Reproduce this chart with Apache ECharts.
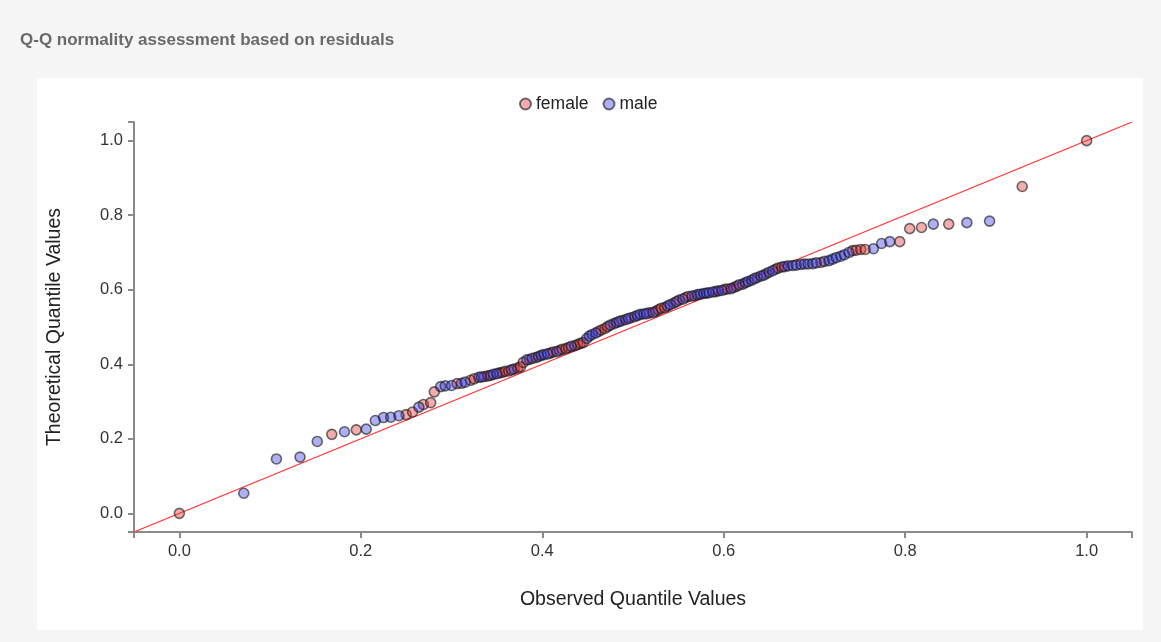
<!DOCTYPE html>
<html>
<head>
<meta charset="utf-8">
<script src="https://cdn.jsdelivr.net/npm/echarts@6/dist/echarts.min.js"></script>
<style>
  html, body { margin: 0; padding: 0; background: #f5f5f5; }
  #chart { width: 1161px; height: 642px; }
</style>
</head>
<body>
<div id="chart"></div>
<script>
// ---- Data ----
const titleText = 'Q-Q normality assessment based on residuals';
const seriesNames = ['female', 'male'];
const xAxisTitle = 'Observed Quantile Values';
const yAxisTitle = 'Theoretical Quantile Values';
const tickValues = [0.0, 0.2, 0.4, 0.6, 0.8, 1.0];
const axisDomain = [-0.05, 1.05];
const refLineEnds = [-0.05, 1.05];

const femaleData = [
  [0.000,0.000],[0.168,0.212],[0.195,0.224],[0.250,0.265],[0.257,0.272],[0.269,0.292],[0.277,0.297],
  [0.281,0.326],[0.306,0.348],[0.321,0.357],[0.325,0.361],
  [0.336,0.367],[0.340,0.369],[0.353,0.377],[0.356,0.378],[0.359,0.381],[0.363,0.382],[0.369,0.387],
  [0.373,0.390],[0.376,0.393],[0.379,0.405],[0.386,0.413],[0.393,0.418],[0.409,0.430],[0.412,0.433],
  [0.419,0.437],[0.422,0.440],[0.426,0.442],[0.429,0.445],[0.436,0.450],[0.439,0.453],[0.442,0.456],
  [0.445,0.458],[0.462,0.488],[0.465,0.492],[0.469,0.496],[0.472,0.501],[0.479,0.509],[0.488,0.517],
  [0.498,0.525],[0.518,0.538],[0.525,0.542],[0.528,0.546],[0.531,0.550],[0.535,0.552],[0.545,0.564],
  [0.551,0.572],[0.558,0.579],[0.561,0.582],[0.568,0.584],[0.591,0.595],[0.601,0.601],[0.604,0.602],
  [0.611,0.606],[0.614,0.609],[0.621,0.615],[0.637,0.633],[0.647,0.643],[0.657,0.655],[0.660,0.658],
  [0.664,0.661],[0.707,0.673],[0.742,0.705],[0.746,0.706],[0.751,0.708],[0.756,0.708],[0.794,0.729],
  [0.805,0.764],[0.818,0.767],[0.848,0.776],[0.929,0.877],[1.000,1.000]
];

const maleData = [
  [0.071,0.054],[0.107,0.146],[0.133,0.151],[0.152,0.193],[0.182,0.219],[0.206,0.226],[0.216,0.249],
  [0.225,0.257],[0.233,0.258],[0.242,0.262],[0.264,0.285],[0.288,0.340],[0.293,0.342],[0.300,0.343],
  [0.311,0.349],[0.315,0.352],[0.330,0.365],
  [0.333,0.366],[0.343,0.370],[0.346,0.373],[0.350,0.375],[0.366,0.385],[0.383,0.412],[0.389,0.416],
  [0.396,0.421],[0.399,0.424],[0.402,0.426],[0.406,0.428],[0.416,0.434],[0.432,0.448],[0.449,0.469],
  [0.452,0.476],[0.455,0.480],[0.459,0.484],[0.475,0.505],[0.482,0.512],[0.485,0.515],[0.492,0.520],
  [0.495,0.523],[0.502,0.528],[0.505,0.531],[0.508,0.534],[0.512,0.535],[0.515,0.536],[0.522,0.539],
  [0.538,0.556],[0.541,0.560],[0.548,0.568],[0.555,0.575],[0.565,0.583],[0.571,0.587],[0.574,0.588],
  [0.578,0.590],[0.581,0.591],[0.584,0.592],[0.588,0.594],[0.594,0.597],[0.598,0.598],[0.608,0.603],
  [0.617,0.613],[0.624,0.619],[0.627,0.622],[0.631,0.626],[0.634,0.630],[0.641,0.637],[0.644,0.639],
  [0.650,0.647],[0.654,0.651],[0.667,0.662],[0.671,0.664],[0.676,0.665],[0.680,0.666],[0.685,0.668],
  [0.689,0.669],[0.693,0.669],[0.698,0.670],[0.702,0.672],[0.711,0.676],[0.716,0.678],[0.720,0.682],
  [0.724,0.686],[0.729,0.690],[0.733,0.694],[0.738,0.700],[0.765,0.710],[0.774,0.724],[0.783,0.729],
  [0.831,0.776],[0.868,0.780],[0.893,0.784]
];

// ---- Chart ----
const chart = echarts.init(document.getElementById('chart'), null, { renderer: 'canvas' });
const FONT = '"Liberation Sans", Arial, sans-serif';
const AXIS_COLOR = '#8a8a8a';
const tickWithEnds = [axisDomain[0]].concat(tickValues, [axisDomain[1]]);

function axisCommon(name, nameGap) {
  return {
    type: 'value',
    min: axisDomain[0],
    max: axisDomain[1],
    name: name,
    nameLocation: 'middle',
    nameGap: nameGap,
    nameTextStyle: { fontFamily: FONT, fontSize: 19.5, color: '#222' },
    splitLine: { show: false },
    axisLine: { show: true, onZero: false, lineStyle: { color: AXIS_COLOR, width: 2 } },
    axisTick: { show: true, length: 6, customValues: tickWithEnds, lineStyle: { color: AXIS_COLOR, width: 2 } },
    axisLabel: {
      customValues: tickValues,
      formatter: v => v.toFixed(1),
      fontFamily: FONT, fontSize: 16.5, color: '#333', margin: 11
    }
  };
}

const pointStyle = (fill) => ({
  color: fill,
  borderColor: 'rgba(20,20,20,0.75)',
  borderWidth: 1.6
});

chart.setOption({
  backgroundColor: 'transparent',
  animation: false,
  graphic: [{
    type: 'rect', z: -10, silent: true,
    shape: { x: 37, y: 78, width: 1106, height: 552 },
    style: { fill: '#ffffff' }
  }],
  title: {
    text: titleText,
    left: 20, top: 32, padding: 0,
    textStyle: { fontFamily: FONT, fontSize: 17, fontWeight: 'bold', color: '#6a6a6a' }
  },
  legend: {
    data: seriesNames,
    left: 514, top: 90,
    icon: 'circle',
    itemWidth: 11, itemHeight: 11, itemGap: 14,
    textStyle: { fontFamily: FONT, fontSize: 17.5, color: '#222', padding: [0, 0, 0, 0] }
  },
  grid: { left: 134, right: 29, top: 122, bottom: 110 },
  xAxis: axisCommon(xAxisTitle, 58),
  yAxis: axisCommon(yAxisTitle, 69),
  series: [
    {
      name: 'refLine', type: 'line', silent: true, z: 1,
      data: refLineEnds.map(v => [v, v]),
      symbol: 'none',
      lineStyle: { color: '#ff3030', width: 1.2 }
    },
    {
      name: seriesNames[0], type: 'scatter', z: 3,
      data: femaleData, symbolSize: 10,
      itemStyle: pointStyle('rgba(225,50,50,0.5)')
    },
    {
      name: seriesNames[1], type: 'scatter', z: 3,
      data: maleData, symbolSize: 10,
      itemStyle: pointStyle('rgba(55,55,225,0.5)')
    }
  ]
});
</script>
</body>
</html>
